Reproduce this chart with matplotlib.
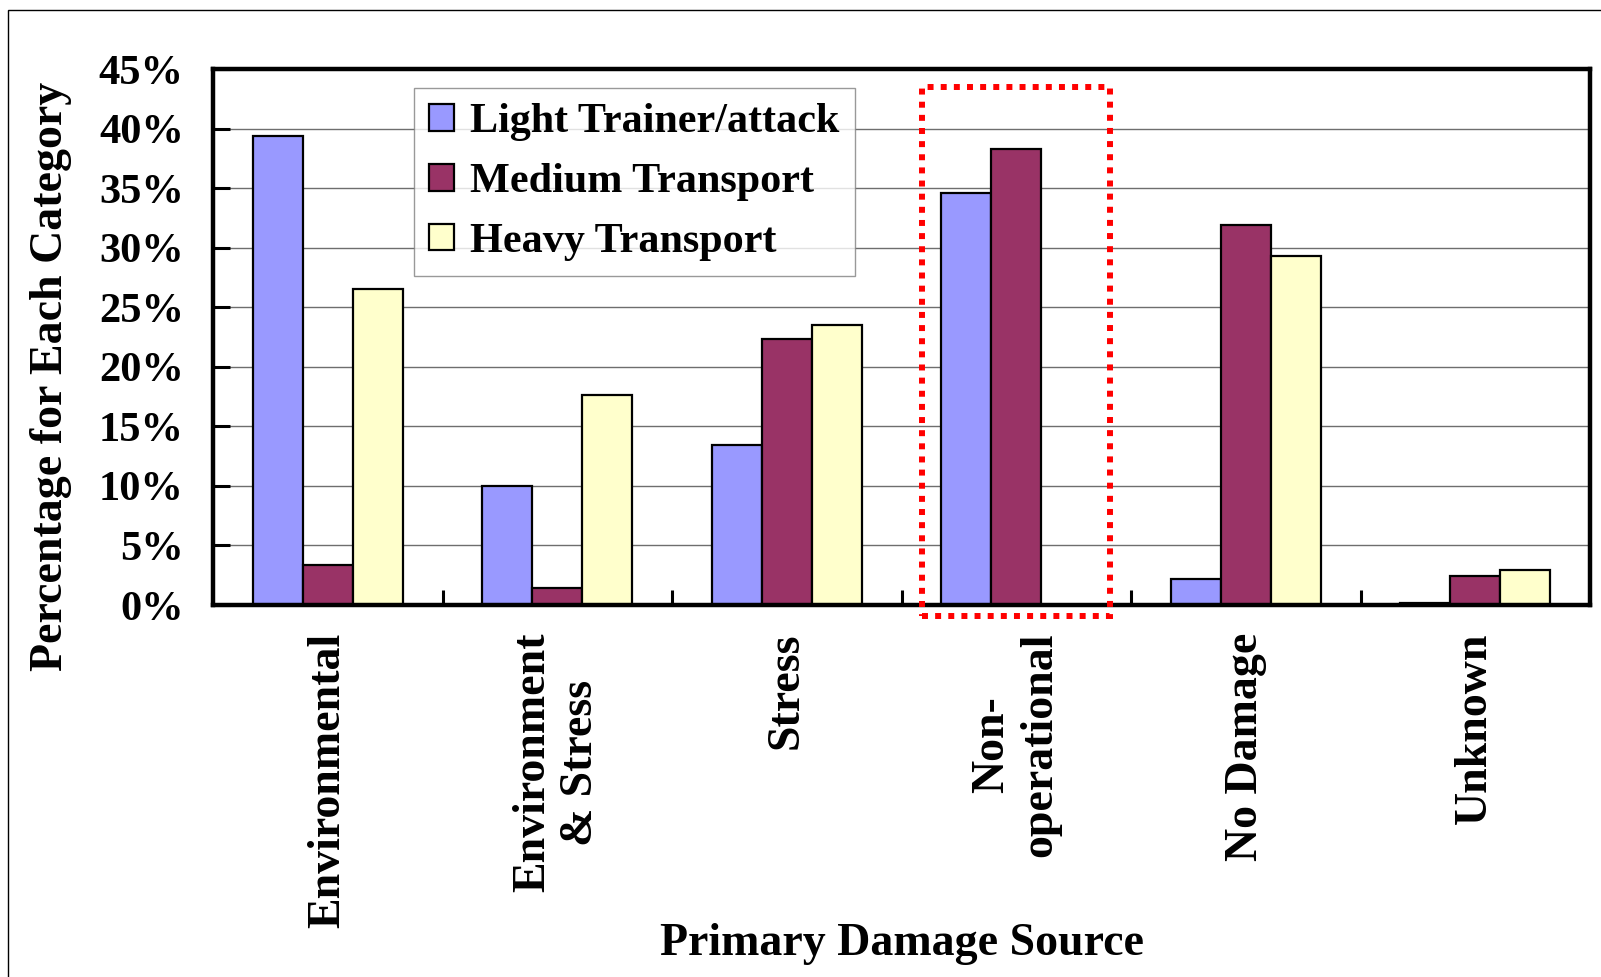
import matplotlib
matplotlib.use("Agg")
import matplotlib.pyplot as plt
from matplotlib.patches import Rectangle
from matplotlib.ticker import FixedLocator, PercentFormatter

categories = ["Environmental", "Environment\n& Stress", "Stress",
              "Non-\noperational", "No Damage", "Unknown"]
series_names = ["Light Trainer/attack", "Medium Transport", "Heavy Transport"]
light = [39.4, 10.0, 13.4, 34.6, 2.2, 0.15]
medium = [3.4, 1.4, 22.3, 38.3, 31.9, 2.4]
heavy = [26.5, 17.6, 23.5, 0.0, 29.3, 2.9]
y_ticks = [0, 5, 10, 15, 20, 25, 30, 35, 40, 45]
highlight = 3  # Non-operational group gets the dotted box

colors = ["#9999FF", "#993366", "#FFFFCC"]

plt.rcParams["font.family"] = ["Liberation Serif", "DejaVu Serif"]
plt.rcParams["font.weight"] = "bold"

W, H = 1601, 977
fig = plt.figure(figsize=(W / 100, H / 100), dpi=100)
ax = fig.add_axes([213 / W, 1 - 605 / H, (1590 - 213) / W, (605 - 69) / H])

bar_w = 0.218
n = len(categories)
centers = [i + 0.5 for i in range(n)]
for k, vals in enumerate([light, medium, heavy]):
    xs = [c + (k - 1) * bar_w for c in centers]
    ax.bar(xs, vals, width=bar_w, color=colors[k], edgecolor="black",
           linewidth=1.6, label=series_names[k], zorder=3)

ax.set_xlim(0, n)
ax.set_ylim(0, 45)
ax.yaxis.set_major_locator(FixedLocator(y_ticks))
ax.yaxis.set_major_formatter(PercentFormatter(decimals=0))
ax.grid(axis="y", color="#6e6e6e", linewidth=1.0, zorder=0)
ax.set_axisbelow(True)

for s in ax.spines.values():
    s.set_linewidth(3.2)
    s.set_zorder(5)

ax.set_xticks(centers)
ax.set_xticklabels(categories, rotation=90, va="top", ha="center",
                   multialignment="center", fontsize=33, fontweight="bold")
ax.set_xticks(list(range(1, n)), minor=True)
ax.tick_params(axis="x", which="major", length=0, pad=20)
ax.tick_params(axis="x", which="minor", direction="in", length=11, width=2.2)
ax.tick_params(axis="y", direction="in", length=12, width=2.2, pad=21,
               labelsize=30.5)
for t in ax.get_yticklabels():
    t.set_fontweight("bold")

# dotted highlight frame around the Non-operational group
ax.add_patch(Rectangle((highlight + 0.09, -0.9), 0.82, 44.4, fill=False,
                       edgecolor="#FF0000", linewidth=4.3,
                       linestyle=(0, (1, 1.2)), clip_on=False, zorder=6))

leg = ax.legend(loc="upper left", bbox_to_anchor=(414 / W, 1 - 88 / H),
                bbox_transform=fig.transFigure, borderaxespad=0,
                fontsize=30.3, frameon=True, fancybox=False, shadow=False,
                handlelength=0.6, handleheight=0.6, handletextpad=0.38,
                borderpad=0.36, labelspacing=0.52)
leg.get_frame().set_edgecolor("#808080")
leg.get_frame().set_linewidth(1.0)
leg.set_zorder(7)
for t in leg.get_texts():
    t.set_fontweight("bold")

fig.text(51 / W, 1 - 376 / H, "Percentage for Each Category", rotation=90,
         ha="center", va="center", fontsize=33, fontweight="bold")
fig.text(902 / W, 1 - 944 / H, "Primary Damage Source", ha="center",
         va="center", fontsize=33, fontweight="bold")

# outer border of the figure panel
fig.add_artist(Rectangle((8 / W, -0.1), 1.2, (1 - 10 / H) + 0.1,
                         transform=fig.transFigure, fill=False,
                         edgecolor="black", linewidth=1.0))

fig.savefig("out.png", dpi=100)
